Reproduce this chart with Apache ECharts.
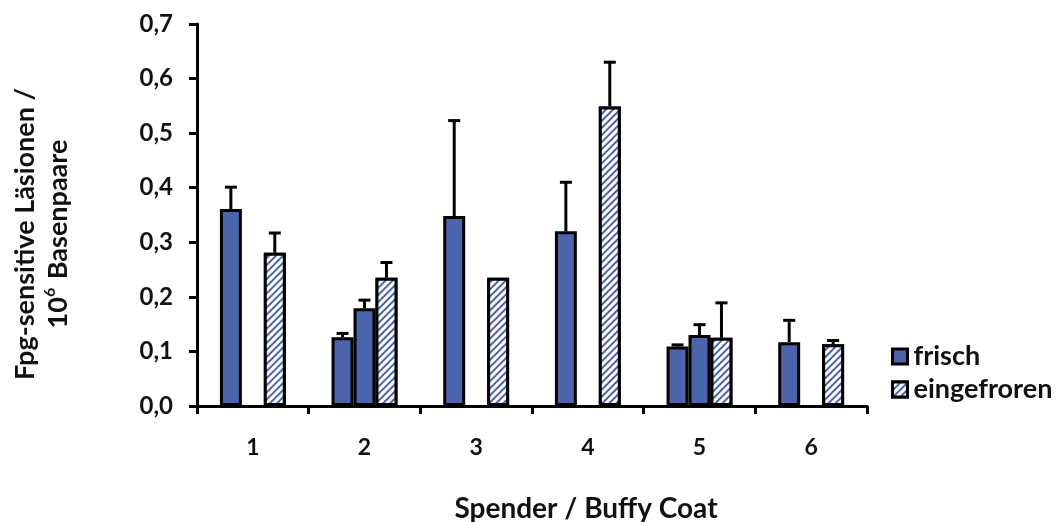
<!DOCTYPE html>
<html><head><meta charset="utf-8">
<script src="https://cdn.jsdelivr.net/npm/echarts@6/dist/echarts.min.js"></script>
<style>html,body{margin:0;padding:0;background:#fff}#c{width:1063px;height:522px}</style>
</head><body><div id="c"></div>
<script>
const categories = ['1','2','3','4','5','6'];
// slot A: frisch (first measurement)
const frischA = [0.361, 0.126, 0.348, 0.320, 0.109, 0.117];
const frischAErr = [0.401, 0.133, 0.523, 0.410, 0.112, 0.157];
// slot B: frisch (second measurement, only donors 2 and 5)
const frischB = [null, 0.179, null, null, 0.130, null];
const frischBErr = [null, 0.194, null, null, 0.149, null];
// slot C: eingefroren
const eingefroren = [0.281, 0.235, 0.235, 0.549, 0.125, 0.113];
const eingefrorenErr = [0.317, 0.263, null, 0.630, 0.189, 0.120];
const yTicks = ['0,0','0,1','0,2','0,3','0,4','0,5','0,6','0,7'];

const BLUE = '#4a65ac';
const FONT = 'Lato';
const GAP = 0.41;

function errSeries(slot, vals, tops) {
  const data = [];
  vals.forEach((v, i) => { if (v != null && tops[i] != null) data.push([i, v, tops[i]]); });
  return {
    type: 'custom', z: 1, silent: true,
    data: data,
    encode: { x: 0, y: [1, 2] },
    renderItem: function (params, api) {
      const cx = api.coord([api.value(0), 0])[0];
      const catW = api.size([1, 0])[0];
      const bw = catW * (1 - GAP) / 3;
      const x = cx + (slot - 1) * bw;
      const y1 = api.coord([api.value(0), api.value(1)])[1];
      const y2 = api.coord([api.value(0), api.value(2)])[1];
      const style = { stroke: '#000', lineWidth: 3 };
      return { type: 'group', children: [
        { type: 'line', shape: { x1: x, y1: y1, x2: x, y2: y2 }, style: style },
        { type: 'line', shape: { x1: x - 6, y1: y2, x2: x + 6, y2: y2 }, style: style }
      ]};
    }
  };
}

const chart = echarts.init(document.getElementById('c'));
chart.setOption({
  animation: false,
  textStyle: { fontFamily: FONT },
  grid: { left: 197, right: 196, top: 24, bottom: 116, outerBoundsMode: 'none', containLabel: false },
  legend: {
    orient: 'vertical', left: 886, top: 338, itemGap: 6,
    itemWidth: 15, itemHeight: 15, icon: 'rect',
    data: ['frisch', 'eingefroren'],
    textStyle: { fontFamily: FONT, fontSize: 27, fontWeight: 'bold', color: '#111', padding: [0, 0, 0, 1] },
    itemStyle: { borderColor: '#000', borderWidth: 3 }
  },
  xAxis: {
    type: 'category', data: categories,
    name: 'Spender / Buffy Coat', nameLocation: 'middle', nameGap: 89,
    nameTextStyle: { fontFamily: FONT, fontSize: 28, fontWeight: 'bold', color: '#111', padding: [0, 0, 0, 108] },
    axisLine: { lineStyle: { color: '#000', width: 3 } },
    axisTick: { show: true, length: 8, lineStyle: { color: '#000', width: 3 } },
    axisLabel: { fontFamily: FONT, fontSize: 23, fontWeight: 'bold', color: '#111', margin: 30 }
  },
  yAxis: {
    type: 'value', min: 0, max: 0.7, interval: 0.1,
    name: 'Fpg-sensitive Läsionen /\n10{sup|6} Basenpaare',
    nameLocation: 'middle', nameGap: 122, nameRotate: 90,
    nameTextStyle: { fontFamily: FONT, fontSize: 27, fontWeight: 'bold', color: '#111', lineHeight: 33,
      padding: [0, 38, 0, 0],
      rich: { sup: { fontSize: 16, fontWeight: 'bold', verticalAlign: 'top', lineHeight: 33, padding: [0, 2, 12, 0], fontFamily: FONT, color: '#111' } } },
    splitLine: { show: false },
    axisLine: { show: true, lineStyle: { color: '#000', width: 3 } },
    axisTick: { show: true, length: 8, lineStyle: { color: '#000', width: 3 } },
    axisLabel: { fontFamily: FONT, fontSize: 24, fontWeight: 'bold', color: '#111', margin: 24,
      formatter: function (v) { return yTicks[Math.round(v * 10)]; } }
  },
  series: [
    { name: 'frisch', type: 'bar', data: frischA, barGap: '0%', barCategoryGap: (GAP * 100) + '%', z: 2,
      itemStyle: { color: BLUE, borderColor: '#000', borderWidth: 3 } },
    { name: 'frisch ', type: 'bar', data: frischB, barGap: '0%', barCategoryGap: (GAP * 100) + '%', z: 2,
      itemStyle: { color: BLUE, borderColor: '#000', borderWidth: 3 } },
    { name: 'eingefroren', type: 'bar', data: eingefroren, barGap: '0%', barCategoryGap: (GAP * 100) + '%', z: 2,
      itemStyle: { color: '#fff', borderColor: '#000', borderWidth: 3,
        decal: { symbol: 'rect', color: BLUE, backgroundColor: '#fff', dashArrayX: [1, 0], dashArrayY: [2, 3], rotation: -Math.PI / 4, symbolSize: 1 } } },
    errSeries(0, frischA, frischAErr),
    errSeries(1, frischB, frischBErr),
    errSeries(2, eingefroren, eingefrorenErr)
  ]
});
</script></body></html>
